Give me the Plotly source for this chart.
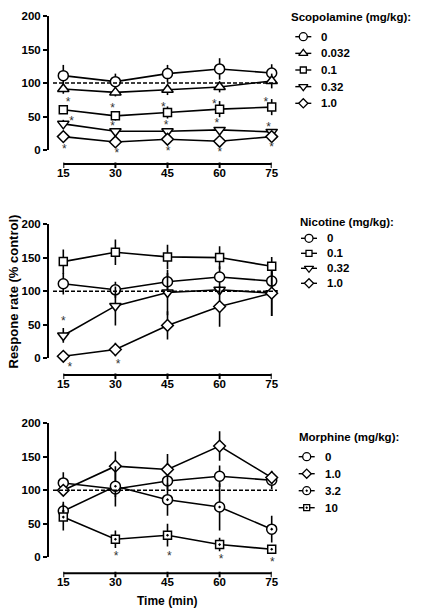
import plotly.graph_objects as go

W, H = 421, 614
time = [15, 30, 45, 60, 75]

# Scopolamine panel
scop_doses = ["0", "0.032", "0.1", "0.32", "1.0"]
scop_mean = [
    [111, 102, 114, 121, 115],
    [91, 86, 90, 94, 103],
    [60, 51, 56, 61, 64],
    [39, 28, 28, 30, 27],
    [20, 12, 16, 13, 20],
]
scop_err = [
    [16, 12, 13, 16, 13],
    [7, 6, 8, 8, 11],
    [6, 7, 9, 12, 12],
    [6, 4, 4, 4, 4],
    [4, 3, 3, 3, 4],
]
scop_star_x = [16.4, 29.2, 43.8, 58.5, 73.3, 17.4, 29.2, 44.6, 59.2, 74.1, 15.3, 30.4, 45.2, 60.1, 75.0]
scop_star_y = [75, 66, 67, 72, 75, 46, 39, 41, 44, 37, 5, -2, 1, 0, 7]

# Nicotine panel
nic_doses = ["0", "0.1", "0.32", "1.0"]
nic_mean = [
    [111, 102, 114, 121, 115],
    [144, 158, 151, 150, 137],
    [34, 78, 98, 102, 97],
    [3, 13, 49, 77, 97],
]
nic_err = [
    [16, 12, 13, 16, 13],
    [18, 19, 18, 17, 14],
    [11, 29, 34, 5, 34],
    [2, 10, 21, 30, 34],
]
nic_star_x = [15.0, 16.9, 30.8]
nic_star_y = [58, -10, -5]

# Morphine panel
mor_doses = ["0", "1.0", "3.2", "10"]
mor_mean = [
    [111, 102, 114, 121, 115],
    [100, 136, 131, 166, 119],
    [69, 106, 86, 75, 42],
    [60, 27, 33, 19, 12],
]
mor_err = [
    [16, 12, 13, 16, 13],
    [4, 22, 23, 22, 10],
    [14, 30, 24, 35, 20],
    [20, 13, 17, 10, 5],
]
mor_star_x = [30.2, 45.5, 60.4, 75.2]
mor_star_y = [5, 5, 1, -4]

y_ticks = [0, 50, 100, 150, 200]

sym_size = {
    "circle": 10, "triangle-up": 10, "square": 8, "triangle-down": 10,
    "diamond": 9, "circle-dot": 10, "square-dot": 8,
}

# layout positions in pixels (style only)
panels = [
    dict(doses=scop_doses, mean=scop_mean, err=scop_err,
         syms=["circle", "triangle-up", "square", "triangle-down", "diamond"],
         sx=scop_star_x, sy=scop_star_y, title="Scopolamine (mg/kg):",
         top=16, bot=150, axis=164, titx=289, tity=17.3,
         symx=303.3, textx=319, item0=36.7, step=16.65),
    dict(doses=nic_doses, mean=nic_mean, err=nic_err,
         syms=["circle", "square", "triangle-down", "diamond"],
         sx=nic_star_x, sy=nic_star_y, title="Nicotine (mg/kg):",
         top=224, bot=358.3, axis=375, titx=298.3, tity=222.3,
         symx=309, textx=325, item0=238.3, step=15.0),
    dict(doses=mor_doses, mean=mor_mean, err=mor_err,
         syms=["circle", "diamond", "circle-dot", "square-dot"],
         sx=mor_star_x, sy=mor_star_y, title="Morphine (mg/kg):",
         top=423.3, bot=557.3, axis=573.3, titx=297.3, tity=436.7,
         symx=306.7, textx=323.3, item0=456.7, step=17.0),
]

FONT = "Arial, Liberation Sans, sans-serif"
TICKFONT = dict(size=11.5, family=FONT, weight="bold", color="black")
fig = go.Figure()
layout = dict(
    width=W, height=H, margin=dict(l=0, r=0, t=0, b=0, autoexpand=False),
    paper_bgcolor="white", plot_bgcolor="rgba(0,0,0,0)", showlegend=False,
    hovermode=False, font=dict(family=FONT, color="black", size=11),
)
shapes = []
annotations = []
px15, px75, yline_px, right_px = 63.3, 271.7, 49, 277
scale = (px75 - px15) / 60.0
xr0 = 15 - (px15 - yline_px) / scale
xr1 = 75 + (right_px - px75) / scale
STAR_EXTRA = 25  # px below the value axis where asterisks may sit

# pixel overlay axis for the legends
layout["xaxis7"] = dict(domain=[0, 1], range=[0, W], anchor="y7", visible=False)
layout["yaxis7"] = dict(domain=[0, 1], range=[H, 0], anchor="x7", visible=False)

for i, p in enumerate(panels):
    n = "" if i == 0 else str(i + 1)
    m = str(i + 4)
    s = str(i + 8)
    xa, ya = "x" + n, "y" + n
    ppu = (p["bot"] - p["top"]) / 200.0  # px per unit
    for k, dose in enumerate(p["doses"]):
        sym = p["syms"][k]
        fig.add_trace(go.Scatter(
            x=time, y=p["mean"][k], name=dose, xaxis=xa, yaxis=ya,
            mode="lines+markers", cliponaxis=False,
            line=dict(color="black", width=1.6),
            marker=dict(symbol=sym, size=sym_size[sym], color="white",
                        line=dict(color="black", width=1.5)),
            error_y=dict(type="data", array=p["err"][k], color="black",
                         thickness=1.6, width=0),
        ))
        # legend entry (drawn manually, GraphPad style)
        ly = p["item0"] + k * p["step"]
        fig.add_trace(go.Scatter(
            x=[p["symx"] - 8, p["symx"], p["symx"] + 8], y=[ly, ly, ly],
            xaxis="x7", yaxis="y7", mode="lines+markers", cliponaxis=False,
            line=dict(color="black", width=1.4),
            marker=dict(symbol=sym, size=max(sym_size[sym] - 2, 6), color="white",
                        opacity=[0, 1, 0], line=dict(color="black", width=1.3)),
            showlegend=False, hoverinfo="skip",
        ))
        annotations.append(dict(
            text=dose, xref="paper", yref="paper", x=p["textx"] / W, y=1 - ly / H,
            xanchor="left", yanchor="middle", showarrow=False,
            font=dict(size=11.5, family=FONT, weight="bold", color="black"),
        ))
    # significance asterisks on their own (same-scale) axes so none are hidden
    fig.add_trace(go.Scatter(
        x=p["sx"], y=[v - 3.0 / ppu for v in p["sy"]], xaxis="x" + s, yaxis="y" + s,
        mode="text", text=["*"] * len(p["sx"]),
        textfont=dict(size=12, color="#333333", family=FONT), showlegend=False,
        cliponaxis=False, hoverinfo="skip",
    ))
    layout["xaxis" + s] = dict(
        domain=[yline_px / W, right_px / W], range=[xr0, xr1], anchor="y" + s,
        visible=False, showgrid=False, zeroline=False,
    )
    layout["yaxis" + s] = dict(
        domain=[1 - (p["bot"] + STAR_EXTRA) / H, 1 - p["top"] / H],
        range=[-STAR_EXTRA / ppu, 200], anchor="x" + s,
        visible=False, showgrid=False, zeroline=False,
    )
    # helper (invisible) trace for the offset time axis
    fig.add_trace(go.Scatter(
        x=time, y=[0] * len(time), xaxis="x" + m, yaxis="y" + m, mode="markers",
        marker=dict(opacity=0), showlegend=False, hoverinfo="skip",
    ))
    ydom = [1 - p["bot"] / H, 1 - p["top"] / H]
    layout["xaxis" + n] = dict(
        domain=[yline_px / W, right_px / W], range=[xr0, xr1], anchor=ya,
        visible=False, showgrid=False, zeroline=False,
    )
    layout["yaxis" + n] = dict(
        domain=ydom, range=[0, 200], anchor=xa,
        tickvals=y_ticks, ticks="outside", ticklen=4, tickwidth=2, tickcolor="black",
        showline=True, linewidth=2, linecolor="black", showgrid=False,
        zeroline=False, automargin=False, tickfont=TICKFONT,
    )
    ax_y = 1 - p["axis"] / H
    layout["xaxis" + m] = dict(
        domain=[px15 / W, px75 / W], range=[15, 75], anchor="y" + m,
        tickvals=time, ticks="", showline=False,
        showgrid=False, zeroline=False, automargin=False, tickfont=TICKFONT,
    )
    layout["yaxis" + m] = dict(
        domain=[ax_y, ax_y + 0.01], range=[0, 1], anchor="x" + m,
        visible=False, showgrid=False, zeroline=False,
    )
    # offset time-axis line and ticks
    shapes.append(dict(type="line", xref="x" + m, yref="paper", x0=time[0], x1=time[-1],
                       y0=ax_y, y1=ax_y, line=dict(color="black", width=2)))
    for t in time:
        shapes.append(dict(type="line", xref="x" + m, yref="paper", x0=t, x1=t,
                           y0=ax_y + 1.5 / H, y1=ax_y - 4 / H,
                           line=dict(color="black", width=2)))
    annotations.append(dict(
        text=p["title"], xref="paper", yref="paper", x=p["titx"] / W,
        y=1 - p["tity"] / H, xanchor="left", yanchor="middle", showarrow=False,
        font=dict(size=11.5, family=FONT, weight="bold", color="black"),
    ))
    shapes.append(dict(type="line", xref="paper", yref=ya, x0=53 / W, x1=right_px / W,
                       y0=100, y1=100, line=dict(color="black", width=1.5, dash="4px,2px")))

annotations.append(dict(text="Time (min)", xref="paper", yref="paper", x=167 / W,
                        y=1 - 601 / H, xanchor="center", yanchor="middle", showarrow=False,
                        font=dict(size=12, family=FONT, weight="bold")))
annotations.append(dict(text="Respone rate (% control)", xref="paper", yref="paper",
                        x=12.5 / W, y=1 - 292 / H, xanchor="center", yanchor="middle",
                        showarrow=False, textangle=-90,
                        font=dict(size=13, family=FONT, weight="bold")))
layout["shapes"] = shapes
layout["annotations"] = annotations
fig.update_layout(**layout)
fig.write_html("out.html", config={"displayModeBar": False},
               post_script="document.body.style.margin='0px';")
